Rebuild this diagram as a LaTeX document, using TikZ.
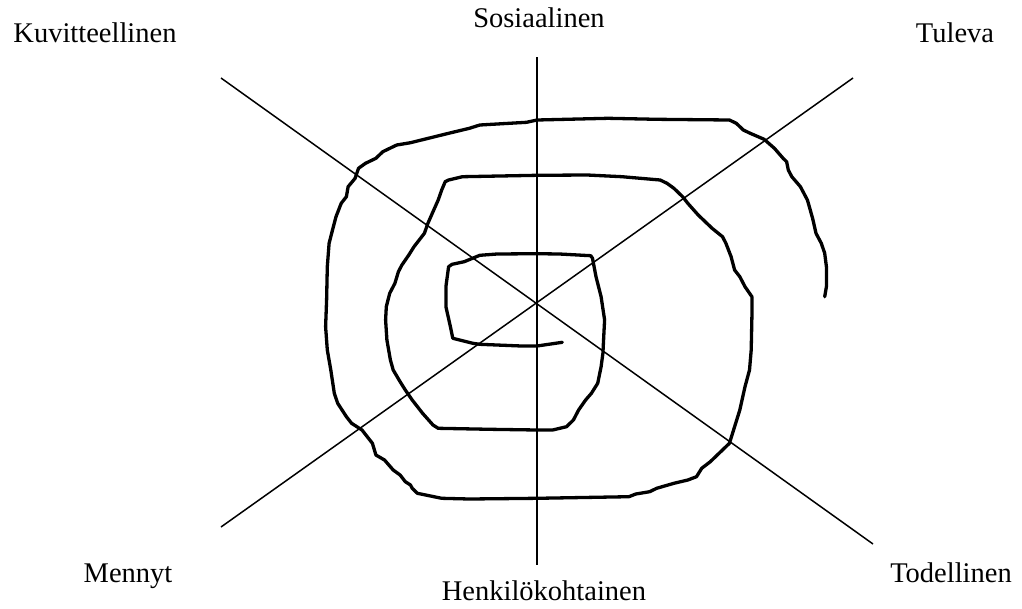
\documentclass[tikz,border=0pt]{standalone}
\usepackage{fontspec}
\setmainfont{Liberation Serif}
\begin{document}
\begin{tikzpicture}[x=1pt,y=-1pt,
  axisline/.style={line width=1.5pt,black},
  spiralline/.style={line width=3.3pt,black,line join=round,line cap=round},
  lbl/.style={anchor=base,inner sep=0pt,font=\fontsize{28.5}{34}\selectfont}]
\useasboundingbox (0,0) rectangle (1022,608);
\fill[white] (0,0) rectangle (1022,608);
% axis end points
\coordinate (vt) at (537,57);
\coordinate (vb) at (537,565);
\coordinate (d1a) at (221,78);
\coordinate (d1b) at (873,544);
\coordinate (d2a) at (221,527);
\coordinate (d2b) at (853,78);
\draw[axisline] (vt) -- (vb);
\draw[axisline] (d1a) -- (d1b);
\draw[axisline] (d2a) -- (d2b);
% labels
\node[lbl] (kuv) at (95,42) {Kuvitteellinen};
\node[lbl] (sos) at (539,27) {Sosiaalinen};
\node[lbl] (tul) at (955,42) {Tuleva};
\node[lbl] (men) at (128,582) {Mennyt};
\node[lbl] (hen) at (544,600) {Henkilökohtainen};
\node[lbl] (tod) at (951,582) {Todellinen};
% spiral
\draw[spiralline] (562.3,342.3) -- (537,346) -- (521.4,346) -- (479.8,344.3) -- (472.9,343.3) -- (452.8,338.3)
 -- (450.4,326.7) -- (445.9,306.7) -- (445.9,286.7) -- (448.6,266.7) -- (452.1,264.3) -- (464.2,261.7)
 -- (479.8,255.3) -- (497.2,254) -- (537,253.7) -- (559.5,254) -- (590.8,255.7) -- (592.5,258.3)
 -- (596,276.7) -- (601.1,296.7) -- (604.6,320) -- (603.9,333.3) -- (602.9,353.3) -- (601.1,366.7)
 -- (597.7,383.3) -- (591.4,393.3) -- (585.6,400) -- (578.6,410) -- (573.4,420) -- (566.5,426.7)
 -- (552.6,430) -- (537,430) -- (490.2,429.3) -- (438.2,428.3) -- (433.0,425) -- (422.6,413.3)
 -- (412.2,400) -- (405.3,390) -- (400.1,381.7) -- (393.2,370) -- (390.4,360) -- (386.9,340)
 -- (385.6,320) -- (386.3,306.7) -- (389.7,293.3) -- (394.9,283.3) -- (398.4,271.7) -- (401.9,265)
 -- (408.8,255) -- (414.0,246.7) -- (419.2,240) -- (424.4,233.3) -- (427.9,223.3) -- (433.0,211.7)
 -- (438.2,200) -- (441.7,190) -- (445.2,181.7) -- (448.6,180) -- (462.5,176.7) -- (537,175.3)
 -- (587.3,175) -- (621.9,176.7) -- (660.1,180) -- (667.0,183.3) -- (673.9,188.3) -- (682.6,196.7)
 -- (687.8,203.3) -- (698.2,215) -- (712.1,228.3) -- (722.5,236.7) -- (725.9,243.3) -- (731.1,256.7)
 -- (734.6,270) -- (739.8,276.7) -- (745.0,286.7) -- (751.9,296.7) -- (751.9,316.7) -- (751.2,350)
 -- (749.5,370) -- (745.0,386.7) -- (739.8,410) -- (734.6,426.7) -- (729.4,443.3) -- (725.9,446.7)
 -- (715.5,456.7) -- (710.3,461.7) -- (701.7,468.3) -- (696.5,476.7) -- (687.8,480) -- (673.9,483.3)
 -- (656.6,488.3) -- (649.7,491.7) -- (635.8,494) -- (628.9,496.7) -- (537,498.3) -- (469.4,499)
 -- (441.7,498.3) -- (417.4,493.3) -- (412.2,488.3) -- (410.5,485) -- (405.3,481.7) -- (400.1,475)
 -- (393.2,470) -- (384.5,460) -- (375.9,455) -- (372.4,443.3) -- (362.0,430) -- (351.6,423.3)
 -- (346.4,416.7) -- (337.7,403.3) -- (334.3,393.3) -- (330.8,370) -- (327.3,350) -- (325.6,326.7)
 -- (326.6,300) -- (327.3,266.7) -- (329.1,243.3) -- (332.5,230) -- (336.0,216.7) -- (341.2,203.3)
 -- (346.4,196.7) -- (348.1,186.7) -- (355.1,178.3) -- (358.5,168.3) -- (365.5,163.3) -- (375.9,158.3)
 -- (382.8,151.7) -- (396.7,145) -- (410.5,142.7) -- (434.8,136.7) -- (448.6,133.3) -- (469.4,128.3)
 -- (479.8,125) -- (526.6,122.3) -- (537,120) -- (608.1,118.3) -- (656.6,119.3) -- (729.4,120)
 -- (736.3,123.3) -- (743.3,130) -- (750.2,133.3) -- (764.1,139.3) -- (774.4,148.3) -- (783.1,158.3)
 -- (786.6,161.7) -- (788.3,170) -- (791.8,176.7) -- (800.4,186.7) -- (807.4,200) -- (812.6,218.3)
 -- (816.0,233.3) -- (821.3,243.3) -- (824.7,253.3) -- (826.4,266.7) -- (826.4,286.7) -- (824.7,296.7);
\end{tikzpicture}
\end{document}
